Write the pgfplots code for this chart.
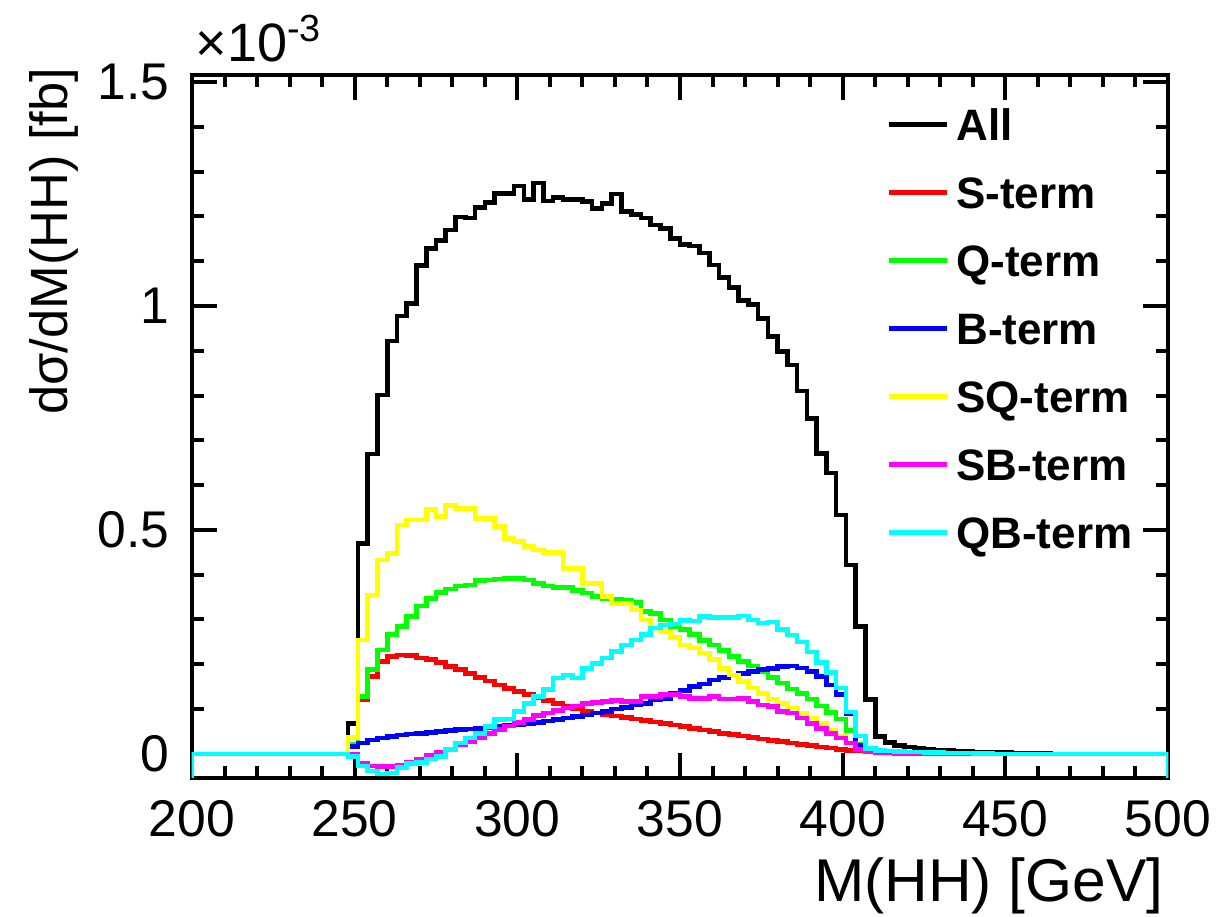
\documentclass[border=0pt]{standalone}
\usepackage{pgfplots}
\pgfplotsset{compat=1.18}
\usepackage{fontspec}
\setmainfont{Liberation Sans}

\definecolor{cAll}{rgb}{0,0,0}
\definecolor{cS}{rgb}{1,0,0}
\definecolor{cQ}{rgb}{0,1,0}
\definecolor{cB}{rgb}{0,0,1}
\definecolor{cSQ}{rgb}{1,1,0}
\definecolor{cSB}{rgb}{1,0,1}
\definecolor{cQB}{rgb}{0,1,1}

\begin{document}
\begin{tikzpicture}
\useasboundingbox (-48pt,-34.75pt) rectangle (256.25pt,194.5pt);
\begin{axis}[
    at={(0,0)}, anchor=south west,
    scale only axis,
    width=244pt, height=175.75pt,
    xmin=200, xmax=500, ymin=-0.054, ymax=1.516,
    xtick={200,250,300,350,400,450,500},
    xticklabels={200,250,300,350,400,450,500},
    ytick={0,0.5,1,1.5},
    yticklabels={0,0.5,1,1.5},
    minor x tick num=4, minor y tick num=4,
    tick align=inside, xtick pos=both, ytick pos=both,
    major tick length=6.25pt, minor tick length=3pt,
    axis line style={line width=1pt},
    tick style={black, line width=1pt},
    tick label style={font=\fontsize{12.9}{15}\selectfont},
    xticklabel style={inner sep=0pt, anchor=north, yshift=-5.5pt},
    yticklabel style={inner sep=0pt, anchor=east, xshift=-5.5pt},
    xlabel={M(HH) [GeV]},
    ylabel={dσ/dM(HH) [fb]},
    xlabel style={at={(rel axis cs:1,0)}, anchor=north east, inner sep=0pt,
        yshift=-19.75pt, xshift=-1pt, font=\fontsize{15.1}{18}\selectfont},
    ylabel style={at={(rel axis cs:0,1)}, anchor=base east, inner sep=0pt,
        yshift=31pt, xshift=2pt, font=\fontsize{13.1}{16}\selectfont},
    legend style={at={(rel axis cs:0.711,0.9787)}, anchor=north west,
        draw=none, fill=none, inner sep=0pt, row sep=0pt,
        font=\bfseries\fontsize{11}{13}\selectfont,
        nodes={text height=8.95pt, text depth=1.05pt, inner ysep=3.5pt, inner xsep=1.75pt}},
    legend cell align=left,
    legend image code/.code={\draw[#1] (0pt,0pt) -- (14.5pt,0pt);},
    const plot mark left, no markers,
    every axis plot/.append style={line width=1.15pt},
    extra description/.code={
        \node[anchor=base west, inner sep=0pt, font=\fontsize{13.5}{15}\selectfont]
            at ([xshift=0.75pt, yshift=3.25pt]rel axis cs:0,1) {×10\textsuperscript{-3}};
    },
]

% All
\addplot[cAll] coordinates {
(200,-0.054) (200,0)
(248,0.068) (251,0.470) (254,0.670) (257,0.801) (260,0.922) (263,0.978)
(266,1.006) (269,1.090) (272,1.129) (275,1.146) (278,1.170) (281,1.199)
(284,1.197) (287,1.220) (290,1.231) (293,1.251) (296,1.251) (299,1.268)
(302,1.238) (305,1.275) (308,1.235) (311,1.243) (314,1.238) (317,1.238)
(320,1.233) (323,1.218) (326,1.229) (329,1.250) (332,1.211) (335,1.205)
(338,1.197) (341,1.181) (344,1.173) (347,1.151) (350,1.138) (353,1.134)
(356,1.118) (359,1.092) (362,1.064) (365,1.042) (368,1.013) (371,1.004)
(374,0.972) (377,0.932) (380,0.898) (383,0.868) (386,0.810) (389,0.749)
(392,0.671) (395,0.627) (398,0.533) (401,0.422) (404,0.284) (407,0.121)
(410,0.038) (413,0.025) (416,0.019) (419,0.015) (422,0.012) (425,0.010)
(428,0.008) (431,0.007) (434,0.006) (437,0.005) (440,0.004) (443,0.004)
(446,0.003) (449,0.003) (452,0.002) (455,0.002) (458,0.002) (461,0.001)
(464,0) (500,0) (500,-0.054)
};

% S-term
\addplot[cS] coordinates {
(200,-0.054) (200,0)
(248,0.015) (251,0.121) (254,0.173) (257,0.206) (260,0.217) (263,0.221)
(266,0.220) (269,0.214) (272,0.210) (275,0.204) (278,0.195) (281,0.188)
(284,0.180) (287,0.171) (290,0.163) (293,0.154) (296,0.146) (299,0.139)
(302,0.132) (305,0.126) (308,0.119) (311,0.112) (314,0.106) (317,0.100)
(320,0.095) (323,0.091) (326,0.087) (329,0.084) (332,0.081) (335,0.078)
(338,0.075) (341,0.071) (344,0.068) (347,0.064) (350,0.061) (353,0.057)
(356,0.053) (359,0.050) (362,0.046) (365,0.043) (368,0.040) (371,0.036)
(374,0.033) (377,0.030) (380,0.027) (383,0.024) (386,0.021) (389,0.018)
(392,0.015) (395,0.013) (398,0.010) (401,0.008) (404,0.006) (407,0.004)
(410,0.002) (413,0.001) (416,0) (500,0) (500,-0.054)
};

% Q-term
\addplot[cQ] coordinates {
(200,-0.054) (200,0)
(248,0.022) (251,0.128) (254,0.188) (257,0.232) (260,0.266) (263,0.284)
(266,0.306) (269,0.330) (272,0.347) (275,0.360) (278,0.368) (281,0.375)
(284,0.377) (287,0.387) (290,0.388) (293,0.390) (296,0.391) (299,0.391)
(302,0.388) (305,0.381) (308,0.375) (311,0.372) (314,0.372) (317,0.365)
(320,0.359) (323,0.351) (326,0.347) (329,0.345) (332,0.343) (335,0.338)
(338,0.318) (341,0.313) (344,0.299) (347,0.284) (350,0.277) (353,0.266)
(356,0.253) (359,0.243) (362,0.231) (365,0.217) (368,0.206) (371,0.196)
(374,0.184) (377,0.171) (380,0.158) (383,0.145) (386,0.135) (389,0.122)
(392,0.107) (395,0.092) (398,0.078) (401,0.052) (404,0.022) (407,0.008)
(410,0.005) (413,0.003) (416,0.002) (419,0.001) (422,0) (500,0) (500,-0.054)
};

% B-term
\addplot[cB] coordinates {
(200,-0.054) (200,0)
(248,0.016) (251,0.024) (254,0.031) (257,0.035) (260,0.039) (263,0.042)
(266,0.044) (269,0.046) (272,0.048) (275,0.050) (278,0.052) (281,0.054)
(284,0.055) (287,0.057) (290,0.059) (293,0.061) (296,0.063) (299,0.065)
(302,0.068) (305,0.070) (308,0.073) (311,0.076) (314,0.080) (317,0.083)
(320,0.087) (323,0.091) (326,0.095) (329,0.100) (332,0.104) (335,0.109)
(338,0.113) (341,0.120) (344,0.124) (347,0.135) (350,0.141) (353,0.150)
(356,0.156) (359,0.165) (362,0.171) (365,0.176) (368,0.180) (371,0.184)
(374,0.188) (377,0.191) (380,0.195) (383,0.196) (386,0.192) (389,0.184)
(392,0.173) (395,0.154) (398,0.132) (401,0.090) (404,0.020) (407,0.008)
(410,0.004) (413,0.002) (416,0.001) (419,0) (500,0) (500,-0.054)
};

% SQ-term
\addplot[cSQ] coordinates {
(200,-0.054) (200,0)
(248,0.037) (251,0.254) (254,0.355) (257,0.433) (260,0.448) (263,0.511)
(266,0.522) (269,0.522) (272,0.545) (275,0.530) (278,0.554) (281,0.548)
(284,0.548) (287,0.526) (290,0.526) (293,0.507) (296,0.481) (299,0.474)
(302,0.463) (305,0.455) (308,0.449) (311,0.449) (314,0.414) (317,0.414)
(320,0.381) (323,0.381) (326,0.351) (329,0.336) (332,0.336) (335,0.321)
(338,0.299) (341,0.281) (344,0.273) (347,0.260) (350,0.243) (353,0.236)
(356,0.225) (359,0.210) (362,0.191) (365,0.176) (368,0.161) (371,0.147)
(374,0.135) (377,0.122) (380,0.112) (383,0.102) (386,0.091) (389,0.080)
(392,0.068) (395,0.052) (398,0.039) (401,0.024) (404,0.010) (407,0.004)
(410,0.002) (413,0.001) (416,0) (500,0) (500,-0.054)
};

% SB-term
\addplot[cSB] coordinates {
(200,-0.054) (200,0)
(248,0.000) (251,-0.021) (254,-0.027) (257,-0.029) (260,-0.028) (263,-0.025)
(266,-0.019) (269,-0.012) (272,-0.004) (275,0.003) (278,0.010) (281,0.020)
(284,0.027) (287,0.037) (290,0.045) (293,0.054) (296,0.062) (299,0.070)
(302,0.077) (305,0.085) (308,0.091) (311,0.097) (314,0.102) (317,0.107)
(320,0.112) (323,0.114) (326,0.117) (329,0.119) (332,0.117) (335,0.117)
(338,0.128) (341,0.128) (344,0.132) (347,0.132) (350,0.128) (353,0.124)
(356,0.124) (359,0.128) (362,0.122) (365,0.122) (368,0.124) (371,0.117)
(374,0.109) (377,0.106) (380,0.094) (383,0.091) (386,0.080) (389,0.068)
(392,0.057) (395,0.046) (398,0.035) (401,0.024) (404,0.009) (407,0.005)
(410,0.003) (413,0.002) (416,0.001) (419,0) (500,0) (500,-0.054)
};

% QB-term
\addplot[cQB] coordinates {
(200,-0.054) (200,0)
(248,-0.006) (251,-0.027) (254,-0.038) (257,-0.045) (260,-0.043) (263,-0.030)
(266,-0.021) (269,-0.020) (272,-0.012) (275,-0.006) (278,0.010) (281,0.024)
(284,0.035) (287,0.046) (290,0.061) (293,0.077) (296,0.078) (299,0.094)
(302,0.113) (305,0.128) (308,0.144) (311,0.169) (314,0.176) (317,0.169)
(320,0.191) (323,0.202) (326,0.214) (329,0.228) (332,0.243) (335,0.254)
(338,0.266) (341,0.281) (344,0.288) (347,0.290) (350,0.298) (353,0.297)
(356,0.306) (359,0.304) (362,0.304) (365,0.305) (368,0.308) (371,0.299)
(374,0.292) (377,0.294) (380,0.277) (383,0.265) (386,0.250) (389,0.227)
(392,0.204) (395,0.182) (398,0.147) (401,0.093) (404,0.040) (407,0.012)
(410,0.008) (413,0.006) (416,0.005) (419,0.004) (422,0.004) (425,0.003)
(428,0.003) (431,0.002) (434,0.002) (437,0.002) (440,0.001) (443,0.001)
(446,0) (500,0) (500,-0.054)
};

\legend{All, S-term, Q-term, B-term, SQ-term, SB-term, QB-term}
\end{axis}
\end{tikzpicture}
\end{document}
